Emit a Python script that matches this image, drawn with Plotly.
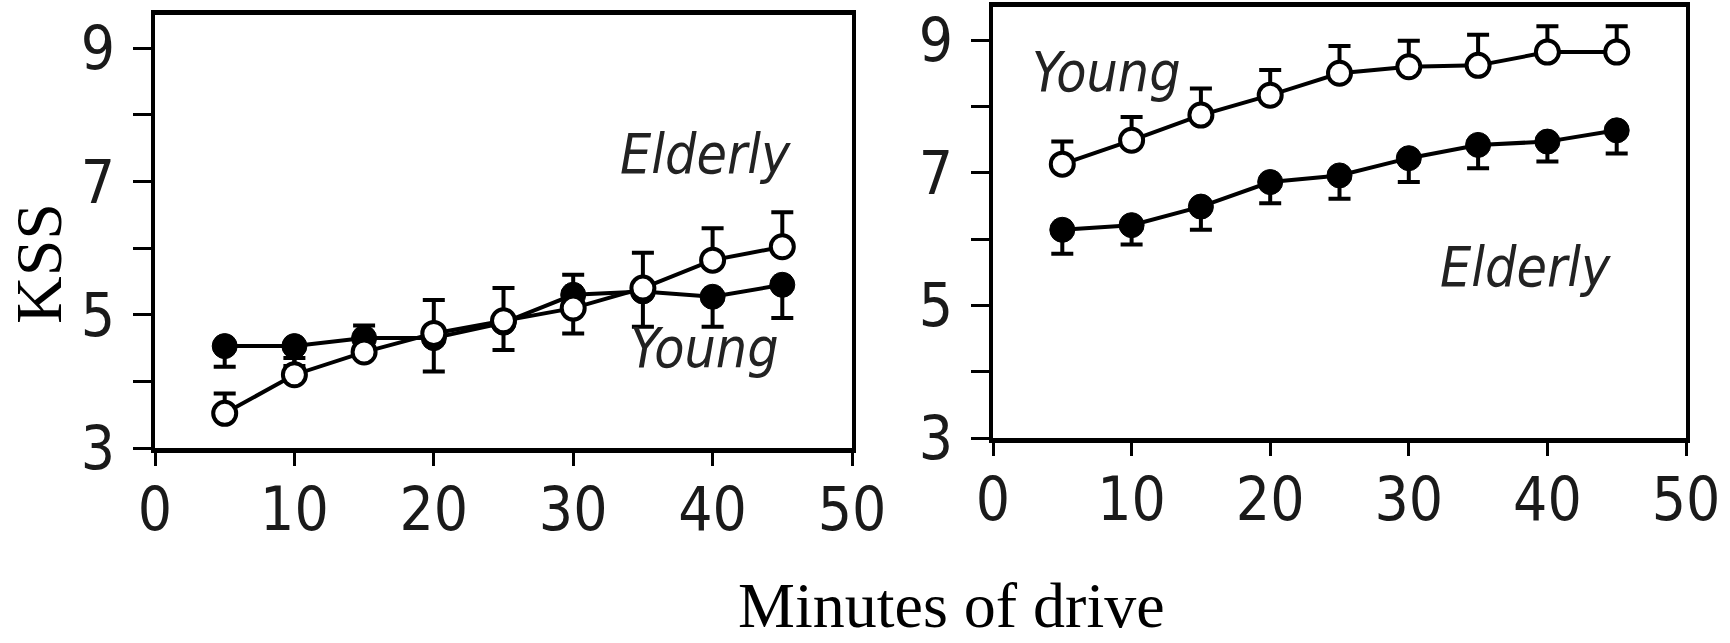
import plotly.graph_objects as go

minutes = [5, 10, 15, 20, 25, 30, 35, 40, 45]

# Left panel
left_open = [3.52, 4.10, 4.44, 4.72, 4.91, 5.10, 5.40, 5.82, 6.02]
left_open_err = [0.30, 0.25, 0.40, 0.50, 0.49, 0.50, 0.53, 0.48, 0.52]
left_filled = [4.53, 4.53, 4.65, 4.65, 4.88, 5.30, 5.35, 5.27, 5.45]
left_filled_err = [0.31, 0.30, 0.25, 0.50, 0.41, 0.58, 0.53, 0.45, 0.50]

# Right panel
right_young = [7.13, 7.49, 7.87, 8.17, 8.50, 8.60, 8.62, 8.82, 8.82]
right_young_err = [0.34, 0.35, 0.40, 0.38, 0.41, 0.39, 0.46, 0.39, 0.39]
right_elderly = [6.14, 6.21, 6.49, 6.86, 6.96, 7.22, 7.42, 7.47, 7.64]
right_elderly_err = [0.36, 0.29, 0.35, 0.32, 0.35, 0.36, 0.35, 0.30, 0.35]

x_ticks = [0, 10, 20, 30, 40, 50]
y_tickvals = [3, 4, 5, 6, 7, 8, 9]
y_ticktext = ["3", "", "5", "", "7", "", "9"]

TICK_FONT = dict(family="DejaVu Sans Condensed, DejaVu Sans", size=60, color="#1a1a1a")
LABEL_FONT = dict(family="DejaVu Sans Condensed, DejaVu Sans", size=55, color="#222222", style="italic")
SERIF = "Liberation Serif, Times New Roman, serif"

zeros = [0] * len(minutes)


def open_trace(y, err, xa, ya):
    return go.Scatter(
        x=minutes, y=y, xaxis=xa, yaxis=ya, mode="lines+markers",
        line=dict(color="black", width=4),
        marker=dict(symbol="circle", size=23, color="white", line=dict(color="black", width=4)),
        error_y=dict(type="data", symmetric=False, array=err, arrayminus=zeros,
                     color="black", thickness=4, width=11),
        showlegend=False, cliponaxis=False,
    )


def filled_trace(y, err, xa, ya):
    return go.Scatter(
        x=minutes, y=y, xaxis=xa, yaxis=ya, mode="lines+markers",
        line=dict(color="black", width=4),
        marker=dict(symbol="circle", size=25, color="black", line=dict(color="black", width=1)),
        error_y=dict(type="data", symmetric=False, array=zeros, arrayminus=err,
                     color="black", thickness=4, width=11),
        showlegend=False, cliponaxis=False,
    )


fig = go.Figure()
fig.add_trace(filled_trace(left_filled, left_filled_err, "x", "y"))
fig.add_trace(open_trace(left_open, left_open_err, "x", "y"))
fig.add_trace(filled_trace(right_elderly, right_elderly_err, "x2", "y2"))
fig.add_trace(open_trace(right_young, right_young_err, "x2", "y2"))

W, H = 1730, 643


def xaxis_cfg(x0, x1, anchor):
    return dict(domain=[x0 / W, x1 / W], range=[0, 50], anchor=anchor, automargin=False,
                tickvals=x_ticks, ticks="outside", ticklen=13, tickwidth=3, tickcolor="black",
                ticklabelstandoff=-8,
                showline=True, linewidth=5, linecolor="black", mirror=True,
                showgrid=False, zeroline=False, tickfont=TICK_FONT, fixedrange=True)


def yaxis_cfg(ytop, ybot, anchor):
    return dict(domain=[1 - ybot / H, 1 - ytop / H], range=[3, 9.5], anchor=anchor, automargin=False,
                tickvals=y_tickvals, ticktext=y_ticktext, ticks="outside", ticklen=18,
                tickwidth=3, tickcolor="black", ticklabelstandoff=6,
                showline=True, linewidth=4, linecolor="black", mirror=True,
                showgrid=False, zeroline=False, tickfont=TICK_FONT, fixedrange=True)


fig.update_layout(
    width=W, height=H,
    margin=dict(l=0, r=0, t=0, b=0, autoexpand=False),
    paper_bgcolor="white", plot_bgcolor="white",
    xaxis=xaxis_cfg(155, 852, "y"),
    yaxis=yaxis_cfg(15, 448, "x"),
    xaxis2=xaxis_cfg(993, 1686, "y2"),
    yaxis2=yaxis_cfg(7, 438, "x2"),
    annotations=[
        dict(text="Elderly", x=39.5, y=7.42, xref="x", yref="y", showarrow=False, font=LABEL_FONT),
        dict(text="Young", x=39.4, y=4.50, xref="x", yref="y", showarrow=False, font=LABEL_FONT),
        dict(text="Young", x=8.2, y=8.52, xref="x2", yref="y2", showarrow=False, font=LABEL_FONT),
        dict(text="Elderly", x=38.4, y=5.58, xref="x2", yref="y2", showarrow=False, font=LABEL_FONT),
        dict(text="KSS", x=38 / W, y=1 - 264 / H, xref="paper", yref="paper", showarrow=False,
             xanchor="center", yanchor="middle",
             textangle=-90, font=dict(family=SERIF, size=66, color="black")),
        dict(text="Minutes of drive", x=951 / W, y=1 - 605 / H, xref="paper", yref="paper",
             xanchor="center", yanchor="middle",
             showarrow=False, font=dict(family=SERIF, size=64, color="black")),
    ],
)

fig.write_html("out.html")
